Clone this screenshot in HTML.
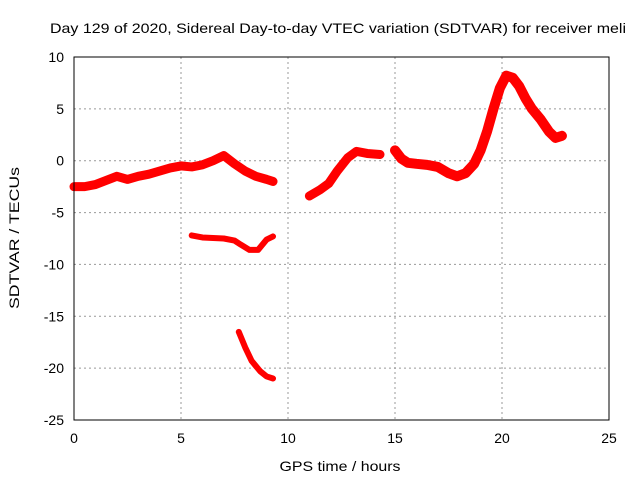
<!DOCTYPE html>
<html><head><meta charset="utf-8"><style>
body{margin:0;background:#fff}
svg{display:block;font-family:"Liberation Sans",sans-serif;font-size:14px}
</style></head><body>
<svg id="chart" width="640" height="480">
<text x="338" y="33" text-anchor="middle" textLength="576" lengthAdjust="spacingAndGlyphs">Day 129 of 2020, Sidereal Day-to-day VTEC variation (SDTVAR) for receiver meli</text>
<text x="340" y="471" text-anchor="middle" textLength="121" lengthAdjust="spacingAndGlyphs">GPS time / hours</text>
<text transform="translate(19,238) rotate(-90)" text-anchor="middle" textLength="142" lengthAdjust="spacingAndGlyphs">SDTVAR / TECUs</text>
<g id="grid"></g><g id="ticks"></g><g id="series"></g>
<rect x="74" y="57" width="535" height="363" fill="none" stroke="#000" stroke-width="1"/>
</svg>
<script>
const xTicks=[0,5,10,15,20,25];
const yTicks=[10,5,0,-5,-10,-15,-20,-25];
const segA_x=[0,0.5,1,1.5,2,2.5,3,3.5,4,4.5,5,5.5,6,6.5,7,7.5,8,8.5,9,9.3];
const segA_y=[-2.5,-2.5,-2.3,-1.9,-1.5,-1.8,-1.5,-1.3,-1,-0.7,-0.5,-0.6,-0.4,0,0.5,-0.3,-1,-1.5,-1.8,-2];
const segB_x=[5.5,6,7,7.5,7.8,8.2,8.6,9,9.3];
const segB_y=[-7.2,-7.4,-7.5,-7.7,-8.1,-8.6,-8.6,-7.6,-7.3];
const segC_x=[7.7,8,8.3,8.7,9,9.3];
const segC_y=[-16.5,-18,-19.3,-20.3,-20.8,-21];
const segD_x=[11,11.5,11.9,12.3,12.8,13.2,13.7,14.3];
const segD_y=[-3.4,-2.8,-2.2,-1,0.3,0.9,0.7,0.6];
const segE_x=[15,15.3,15.6,16,16.5,17,17.5,17.9,18.3,18.7,19,19.3,19.6,19.9,20.2,20.5,20.8,21.1,21.4,21.8,22.2,22.5,22.8];
const segE_y=[1,0.2,-0.2,-0.3,-0.4,-0.6,-1.2,-1.5,-1.2,-0.3,1,2.8,5,7,8.2,8,7.2,6,5,4,2.8,2.2,2.4];
const X=v=>74+v*535/25;
const Y=v=>57+(10-v)*363/35;
const ns="http://www.w3.org/2000/svg";
const grid=document.getElementById('grid'),ticks=document.getElementById('ticks'),ser=document.getElementById('series');
function mk(t,a,p){const e=document.createElementNS(ns,t);for(const k in a)e.setAttribute(k,a[k]);p.appendChild(e);return e;}
xTicks.forEach(v=>{
 if(v>0&&v<25){const l=mk('line',{x1:X(v),x2:X(v),y1:57,y2:420,stroke:'#999','stroke-dasharray':'2,3'},grid);
 
 }
 const t=mk('text',{x:X(v),y:443,'text-anchor':'middle'},ticks);t.textContent=v;
 
 
});
yTicks.forEach(v=>{
 if(v<10&&v>-25){const l=mk('line',{x1:74,x2:609,y1:Y(v),y2:Y(v),stroke:'#999','stroke-dasharray':'2,3'},grid);
 
 }
 const t=mk('text',{x:64,y:Y(v)+5,'text-anchor':'end'},ticks);t.textContent=v;
 
 
});
[[segA_x,segA_y,'segment-a',9],[segB_x,segB_y,'segment-b',6],[segC_x,segC_y,'segment-c',6],[segD_x,segD_y,'segment-d',9],[segE_x,segE_y,'segment-e',10]].forEach(s=>{
 const pts=s[0].map((x,i)=>X(x)+','+Y(s[1][i])).join(' ');
 const p=mk('polyline',{points:pts,fill:'none',stroke:'#f00','stroke-width':s[3],'stroke-linejoin':'round','stroke-linecap':'round'},ser);
 
 
});
</script>
</body></html>
